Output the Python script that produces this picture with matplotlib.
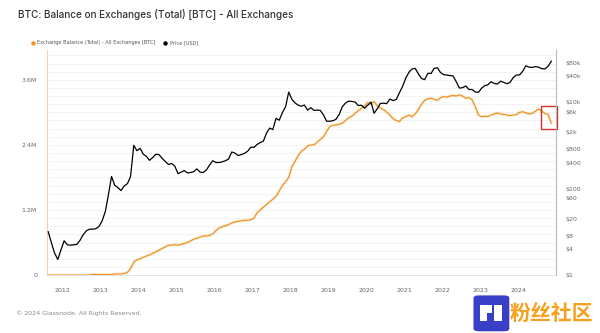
import matplotlib
matplotlib.use("Agg")
import matplotlib.pyplot as plt
import matplotlib.ticker as mticker
from matplotlib.lines import Line2D
from matplotlib.patches import Rectangle, FancyBboxPatch
import pandas as pd

# meses de ago/2011 a nov/2024
datas = pd.date_range("2011-08-01", "2024-11-01", freq="MS") + pd.Timedelta(days=14)

# saldo nas exchanges, em milhoes de BTC
saldo_mi = [
    0.0, 0.0, 0.0, 0.0, 0.0,
    0.0, 0.0, 0.0, 0.0, 0.0, 0.0, 0.0, 0.0, 0.0, 0.01, 0.01, 0.01,
    0.01, 0.01, 0.01, 0.01, 0.02, 0.02, 0.02, 0.03, 0.05, 0.12, 0.24, 0.28,
    0.30, 0.33, 0.35, 0.37, 0.40, 0.43, 0.46, 0.49, 0.52, 0.55, 0.55, 0.56,
    0.55, 0.57, 0.58, 0.60, 0.63, 0.66, 0.68, 0.70, 0.72, 0.72, 0.73, 0.76,
    0.82, 0.87, 0.89, 0.91, 0.93, 0.96, 0.98, 0.99, 1.00, 1.01, 1.01, 1.02,
    1.05, 1.15, 1.20, 1.25, 1.30, 1.35, 1.40, 1.45, 1.55, 1.65, 1.72, 1.80,
    2.00, 2.10, 2.20, 2.28, 2.32, 2.38, 2.40, 2.40, 2.45, 2.50, 2.55, 2.65,
    2.74, 2.76, 2.77, 2.78, 2.80, 2.85, 2.90, 2.93, 2.98, 3.03, 3.07, 3.12,
    3.18, 3.15, 3.20, 3.12, 3.08, 3.05, 3.00, 2.95, 2.88, 2.85, 2.83, 2.90,
    2.92, 2.95, 2.92, 2.97, 3.05, 3.15, 3.22, 3.25, 3.26, 3.24, 3.22, 3.27,
    3.29, 3.28, 3.30, 3.31, 3.30, 3.32, 3.30, 3.26, 3.27, 3.23, 3.10, 2.95,
    2.92, 2.93, 2.92, 2.95, 2.97, 2.99, 2.97, 2.96, 2.95, 2.94, 2.95, 2.96,
    3.00, 3.01, 2.99, 2.97, 2.98, 3.02, 3.06, 3.02, 2.98, 2.96, 2.80,
]

# preco em USD
preco = [
    10, 5.5, 3.2, 2.3, 3.8,
    6.2, 5.0, 4.9, 5.0, 5.1, 6.3, 8.5, 10.5, 11.5, 11.5, 11.8, 13.3,
    18, 30, 70, 190, 120, 105, 90, 115, 130, 190, 1000, 750,
    850, 620, 560, 450, 520, 620, 610, 500, 420, 360, 380, 330,
    220, 240, 260, 230, 235, 245, 285, 240, 235, 270, 350, 440,
    400, 400, 415, 440, 480, 700, 660, 580, 610, 650, 730, 900,
    900, 1050, 1150, 1250, 1900, 2500, 2300, 4200, 3800, 5700, 7800, 17000,
    11500, 9500, 8500, 8000, 8500, 6500, 7400, 6400, 6500, 6400, 5000, 3600,
    3600, 3700, 4000, 5200, 7800, 9500, 10500, 10300, 10000, 8300, 8400, 7200,
    8500, 10000, 5500, 7000, 9300, 9400, 9200, 11700, 10800, 11500, 16500, 23000,
    36000, 49000, 58000, 60000, 45000, 35000, 33000, 46000, 46000, 60000, 62000, 48000,
    43000, 42000, 41000, 40000, 29500, 21000, 21500, 23500, 19500, 19500, 17000, 16800,
    21000, 24000, 25000, 29500, 27000, 26000, 30300, 28500, 26500, 28500, 37000, 42000,
    42500, 52000, 69000, 64000, 63000, 66000, 64000, 59000, 58500, 67000, 88000,
]

ticks_saldo = [0, 1.2e6, 2.4e6, 3.6e6]
rotulos_saldo = ["0", "1.2M", "2.4M", "3.6M"]
ticks_preco = [1, 4, 8, 20, 60, 100, 400, 800, 2000, 6000, 10000, 40000, 80000]
rotulos_preco = ["$1", "$4", "$8", "$20", "$60", "$100", "$400", "$800",
                 "$2k", "$6k", "$10k", "$40k", "$80k"]
anos = list(range(2012, 2025))

# caixa vermelha de destaque (queda recente)
destaque_inicio, destaque_fim = pd.Timestamp("2024-08-10"), pd.Timestamp("2025-01-10")
destaque_min, destaque_max = 2.70e6, 3.12e6

laranja = "#f7931a"
cinza = "#666666"

fig = plt.figure(figsize=(6, 3.33), dpi=100)
fig.patch.set_facecolor("white")
ax = fig.add_axes([0.078, 0.174, 0.849, 0.676])

saldo = [v * 1e6 for v in saldo_mi]
ax.plot(datas, saldo, color=laranja, lw=2.2, alpha=0.18, zorder=2)
ax.plot(datas, saldo, color="#e8901c", lw=0.8, zorder=3)
ax.set_ylim(0, 4.15e6)
ax.set_xlim(pd.Timestamp("2011-08-01"), pd.Timestamp("2025-01-01"))
ax.set_yticks(ticks_saldo)
ax.set_yticklabels(rotulos_saldo)
ax.yaxis.set_minor_locator(mticker.MultipleLocator(0.15e6))
ax.grid(axis="y", which="both", color="#eeeeee", lw=0.5)
ax.set_axisbelow(True)
ax.set_xticks([pd.Timestamp(f"{a}-01-01") for a in anos])
ax.set_xticklabels([str(a) for a in anos])
ax.tick_params(axis="both", which="both", length=0, labelsize=4.5, labelcolor=cinza)
ax.tick_params(axis="x", pad=9)
ax.tick_params(axis="y", pad=7)
for lado in ["top", "right"]:
    ax.spines[lado].set_visible(False)
ax.spines["left"].set_color("#f6d2a6")
ax.spines["left"].set_linewidth(0.8)
ax.spines["bottom"].set_color("#e0e0e0")
ax.spines["bottom"].set_linewidth(0.6)

ax2 = ax.twinx()
ax2.plot(datas, preco, color="black", lw=0.9, zorder=4)
ax2.set_yscale("log")
ax2.set_ylim(1, 1.6e5)
ax2.set_yticks(ticks_preco)
ax2.set_yticklabels(rotulos_preco)
ax2.yaxis.set_minor_locator(mticker.NullLocator())
ax2.tick_params(axis="y", length=0, labelsize=4.5, labelcolor=cinza, pad=7)
for lado in ["top", "left", "bottom"]:
    ax2.spines[lado].set_visible(False)
ax2.spines["right"].set_color("#bbbbbb")
ax2.spines["right"].set_linewidth(0.8)

ax.add_patch(Rectangle((destaque_inicio, destaque_min), destaque_fim - destaque_inicio,
                       destaque_max - destaque_min, fill=False, edgecolor="#d0312d",
                       lw=1.0, zorder=6, clip_on=False))

# titulo, legenda e rodape
fig.text(0.03, 0.955, "BTC: Balance on Exchanges (Total) [BTC] - All Exchanges",
         fontsize=7.2, color="#333333", family="Inter", fontweight="medium", va="center")
fig.add_artist(Line2D([0.055], [0.871], marker="o", markersize=2.2, color=laranja,
                      transform=fig.transFigure))
fig.text(0.062, 0.871, "Exchange Balance (Total) - All Exchanges [BTC]", fontsize=3.6,
         color="#555555", va="center")
fig.add_artist(Line2D([0.275], [0.871], marker="o", markersize=2.2, color="black",
                      transform=fig.transFigure))
fig.text(0.283, 0.871, "Price [USD]", fontsize=3.6, color="#555555", va="center")
fig.text(0.027, 0.06, "\u00a9 2024 Glassnode. All Rights Reserved.", fontsize=4.5,
         color="#888888", va="center")

# marca d'agua
fig.add_artist(FancyBboxPatch((0.79, 0.005), 0.058, 0.108,
                              boxstyle="round,pad=0.002,rounding_size=0.01",
                              facecolor="#3a3fc8", edgecolor="white", lw=1.0,
                              transform=fig.transFigure))
for bx, by, bw, bh in [(0.800, 0.035, 0.012, 0.05), (0.812, 0.06, 0.008, 0.025),
                       (0.823, 0.035, 0.014, 0.05)]:
    fig.add_artist(Rectangle((bx, by), bw, bh, facecolor="white", edgecolor="none",
                             transform=fig.transFigure))
fig.text(0.850, 0.06, "粉丝社区", fontsize=15, color="#f5a11c", fontweight="bold",
         family=["Noto Sans CJK SC", "DejaVu Sans"], va="center")

fig.savefig("out.png", dpi=100, facecolor="white")
